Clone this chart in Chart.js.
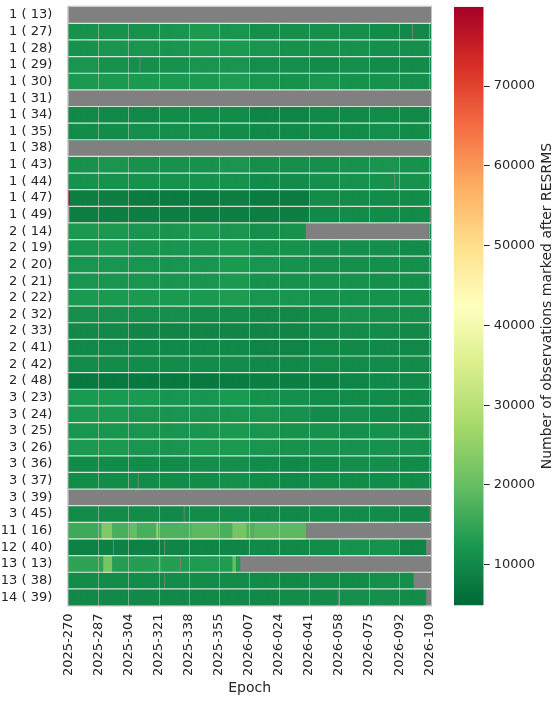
<!DOCTYPE html>
<html>
<head>
<meta charset="utf-8">
<script src="https://cdn.jsdelivr.net/npm/chart.js@4.4.1/dist/chart.umd.min.js"></script>
<style>
  html, body { margin: 0; padding: 0; background: #ffffff; }
  #main { position: absolute; left: 0; top: 0; width: 440px; height: 703px; }
  #cbar { position: absolute; left: 440px; top: 0; width: 120px; height: 703px; }
</style>
</head>
<body>
<div id="main"><canvas id="heat"></canvas></div>
<div id="cbar"><canvas id="cb"></canvas></div>
<script>
// ---------------- DATA ----------------
const rowLabels = ['1 ( 13)','1 ( 27)','1 ( 28)','1 ( 29)','1 ( 30)','1 ( 31)','1 ( 34)','1 ( 35)','1 ( 38)',
  '1 ( 43)','1 ( 44)','1 ( 47)','1 ( 49)','2 ( 14)','2 ( 19)','2 ( 20)','2 ( 21)','2 ( 22)','2 ( 32)',
  '2 ( 33)','2 ( 41)','2 ( 42)','2 ( 48)','3 ( 23)','3 ( 24)','3 ( 25)','3 ( 26)','3 ( 36)','3 ( 37)',
  '3 ( 39)','3 ( 45)','11 ( 16)','12 ( 40)','13 ( 13)','13 ( 38)','14 ( 39)'];

// epoch categories (day of year), 2025-270 ... 2026-109
const epochs = [];
for (let d = 270; d <= 365; d++) epochs.push('2025-' + String(d).padStart(3, '0'));
for (let d = 1; d <= 109; d++) epochs.push('2026-' + String(d).padStart(3, '0'));

const tickLabels = ['2025-270','2025-287','2025-304','2025-321','2025-338','2025-355','2026-007',
  '2026-024','2026-041','2026-058','2026-075','2026-092','2026-109'];

const cbTicks = [10000, 20000, 30000, 40000, 50000, 60000, 70000];
const vMin = 4890;
const vMax = 79950;

// values per satellite, as runs [first epoch index, value]; null = no data
const r_1_13  = [[0,null]];
const r_1_27  = [[0,11500],[51,12000],[68,12500],[85,12000],[102,11000],[170,10500],[187,10000],[194,null],[195,10000]];
const r_1_28  = [[0,11500],[17,12000],[68,12500],[102,12000],[119,11500],[170,11000]];
const r_1_29  = [[0,12000],[17,11500],[34,11000],[40,null],[41,11000],[51,11500],[68,12000],[102,11000],[136,10500],[153,11000],[170,10500]];
const r_1_30  = [[0,12500],[85,13000],[102,12000],[119,11500],[136,12000],[153,11500],[187,11000]];
const r_1_31  = [[0,null]];
const r_1_34  = [[0,10000],[51,10500],[102,9500],[136,10000],[170,10500],[187,10000]];
const r_1_35  = [[0,10500],[34,11000],[85,10500],[102,10000],[136,10500],[170,11000],[187,10500]];
const r_1_38  = [[0,null]];
const r_1_43  = [[0,11500],[17,12000],[34,11500],[85,12000],[102,11000],[153,11500],[170,12000],[187,11500]];
const r_1_44  = [[0,11500],[102,10500],[136,11000],[153,11500],[184,null],[185,11500],[204,11000]];
const r_1_47  = [[0,79950],[1,8500],[34,8000],[85,8500],[102,8000],[137,10500]];
const r_1_49  = [[0,null],[1,8500],[136,10000],[153,10500],[204,null]];
const r_2_14  = [[0,12500],[34,12000],[68,12500],[85,12000],[102,11000],[119,11500],[134,null],[204,11000]];
const r_2_19  = [[0,12000],[17,12500],[34,12000],[85,12500],[102,11500],[136,11000],[187,10500]];
const r_2_20  = [[0,12000],[85,12500],[102,12000],[119,11500],[136,11000]];
const r_2_21  = [[0,12000],[85,12500],[102,11500],[170,11000]];
const r_2_22  = [[0,12500],[85,13000],[102,12000],[136,11500],[204,11000]];
const r_2_32  = [[0,11000],[68,10500],[102,10000],[136,10500],[153,11500],[170,11000],[204,10500]];
const r_2_33  = [[0,10000],[34,9500],[136,10000],[153,10500],[187,10000]];
const r_2_41  = [[0,10000],[102,9500],[136,10000]];
const r_2_42  = [[0,10500],[102,10000],[136,10500]];
const r_2_48  = [[0,7500],[85,8000],[102,null],[103,8500],[153,9500],[170,10000]];
const r_3_23  = [[0,12500],[51,12000],[85,12500],[102,11500],[119,11000],[136,10500]];
const r_3_24  = [[0,12500],[34,12000],[119,11500],[136,null],[137,10500],[153,11000],[170,10500]];
const r_3_25  = [[0,12000],[85,12500],[102,12000],[119,11500],[153,11000],[170,11500],[187,11000]];
const r_3_26  = [[0,12500],[34,12000],[68,12500],[102,12000],[119,11500],[204,11000]];
const r_3_36  = [[0,10500],[68,11000],[102,10500],[119,10000],[136,10500],[153,11000],[187,10500]];
const r_3_37  = [[0,10500],[39,null],[40,10500],[85,11000],[102,10500],[119,10000],[136,10500]];
const r_3_39  = [[0,null]];
const r_3_45  = [[0,10500],[51,10000],[65,null],[66,10500],[102,10000],[136,10500],[187,10000],[204,null]];
const r_11_16 = [[0,16000],[19,23000],[25,17000],[35,20000],[39,17000],[50,26000],[51,17500],[70,19000],[85,17000],[93,22000],[101,18000],[104,null],[105,19000],[134,null]];
const r_12_40 = [[0,9000],[25,null],[26,9000],[54,null],[55,9500],[102,10000],[136,10500],[153,11500],[187,9500],[202,null]];
const r_13_13 = [[0,14500],[20,22000],[25,13500],[51,15000],[53,13500],[63,null],[64,13000],[93,20000],[95,13000],[97,null]];
const r_13_38 = [[0,10500],[51,10000],[54,null],[55,10500],[119,10000],[136,10500],[170,11000],[195,null]];
const r_14_39 = [[0,10000],[119,10500],[152,null],[153,11000],[187,10500],[202,null]];

const rowRuns = [r_1_13,r_1_27,r_1_28,r_1_29,r_1_30,r_1_31,r_1_34,r_1_35,r_1_38,r_1_43,r_1_44,r_1_47,r_1_49,
  r_2_14,r_2_19,r_2_20,r_2_21,r_2_22,r_2_32,r_2_33,r_2_41,r_2_42,r_2_48,r_3_23,r_3_24,r_3_25,r_3_26,
  r_3_36,r_3_37,r_3_39,r_3_45,r_11_16,r_12_40,r_13_13,r_13_38,r_14_39];

// ---------------- helpers ----------------
function expand(runs) {
  const out = new Array(epochs.length).fill(null);
  for (let k = 0; k < runs.length; k++) {
    const s = runs[k][0], v = runs[k][1];
    const e = k + 1 < runs.length ? runs[k + 1][0] : epochs.length;
    for (let c = s; c < e; c++) out[c] = v;
  }
  return out;
}
const rowValues = rowRuns.map(expand);

const cmapStops = ['#006837','#1a9850','#66bd63','#a6d96a','#d9ef8b','#ffffbf','#fee08b','#fdae61','#f46d43','#d73027','#a50026'];
const cmapRGB = cmapStops.map(h => [parseInt(h.slice(1,3),16), parseInt(h.slice(3,5),16), parseInt(h.slice(5,7),16)]);
function cmap(t) {
  t = Math.max(0, Math.min(1, t));
  const p = t * 10, i = Math.min(9, Math.floor(p)), f = p - i;
  const a = cmapRGB[i], b = cmapRGB[i + 1];
  return 'rgb(' + a.map((x, j) => Math.round(x + (b[j] - x) * f)).join(',') + ')';
}

Chart.defaults.font.family = "'DejaVu Sans', sans-serif";
Chart.defaults.font.size = 13;
Chart.defaults.color = '#262626';
Chart.defaults.animation = false;

// ---------------- heatmap ----------------
const datasets = rowValues.map((vals, r) => {
  const data = [], colors = [];
  vals.forEach((v, c) => {
    if (v !== null) {
      data.push({ x: c + 0.5, y: [r, r + 1] });
      colors.push(cmap((v - vMin) / (vMax - vMin)));
    }
  });
  return { label: rowLabels[r], data, backgroundColor: colors, borderWidth: 0,
           barPercentage: 1, categoryPercentage: 1, grouped: false, inflateAmount: 0.45 };
});

const heatPlugin = {
  id: 'heatDeco',
  beforeDatasetsDraw(chart) {
    const ctx = chart.ctx, a = chart.chartArea;
    ctx.save();
    ctx.fillStyle = '#808080';
    ctx.fillRect(a.left, a.top, a.right - a.left, a.bottom - a.top);
    ctx.restore();
  },
  afterDatasetsDraw(chart) {
    const ctx = chart.ctx, a = chart.chartArea;
    const xs = chart.scales.x, ys = chart.scales.y;
    ctx.save();
    // vertical guide lines at the epoch ticks, over the cells that hold data
    ctx.strokeStyle = 'rgba(200,200,200,0.55)';
    ctx.lineWidth = 1;
    tickLabels.forEach(l => {
      const c = epochs.indexOf(l);
      if (c <= 0) return;
      const x = Math.round(xs.getPixelForValue(c)) + 0.5;
      rowValues.forEach((vals, r) => {
        if (vals[c] === null) return;
        ctx.beginPath();
        ctx.moveTo(x, ys.getPixelForValue(r));
        ctx.lineTo(x, ys.getPixelForValue(r + 1));
        ctx.stroke();
      });
    });
    // white separators between satellites
    ctx.strokeStyle = 'rgba(255,255,255,0.8)';
    ctx.lineWidth = 1.2;
    for (let i = 1; i < rowLabels.length; i++) {
      const y = ys.getPixelForValue(i);
      ctx.beginPath(); ctx.moveTo(a.left, y); ctx.lineTo(a.right, y); ctx.stroke();
    }
    // frame
    ctx.strokeStyle = '#c4c4c4';
    ctx.lineWidth = 1;
    ctx.strokeRect(a.left - 0.5, a.top - 0.5, a.right - a.left + 1, a.bottom - a.top + 1);
    ctx.restore();
  }
};

new Chart(document.getElementById('heat'), {
  type: 'bar',
  data: { datasets },
  options: {
    responsive: true, maintainAspectRatio: false,
    layout: { padding: { left: 0, top: 6.7, right: 9, bottom: 0 } },
    plugins: { legend: { display: false }, tooltip: { enabled: false } },
    scales: {
      x: {
        type: 'linear', min: 0, max: epochs.length, offset: false,
        afterBuildTicks(s) { s.ticks = tickLabels.map(l => ({ value: epochs.indexOf(l) })); },
        afterFit(s) { s.height = 97.5; s.paddingLeft = 0; s.paddingRight = 0; s.paddingTop = 0; s.paddingBottom = 0; },
        ticks: { autoSkip: false, maxRotation: 90, minRotation: 90, padding: 8,
                 callback: (v, i) => tickLabels[i] },
        grid: { display: false, drawTicks: false },
        border: { display: false },
        title: { display: true, text: 'Epoch', font: { size: 14 }, padding: { top: 4, bottom: 6.5 } }
      },
      y: {
        type: 'linear', min: 0, max: rowLabels.length, reverse: true,
        afterBuildTicks(s) { s.ticks = rowLabels.map((_, i) => ({ value: i + 0.5 })); },
        afterFit(s) { s.width = 68.3; s.paddingTop = 0; s.paddingBottom = 0; s.paddingLeft = 0; s.paddingRight = 0; },
        ticks: { autoSkip: false, padding: 8, callback: (v, i) => rowLabels[i] },
        grid: { display: false },
        border: { display: false }
      }
    }
  },
  plugins: [heatPlugin]
});

// ---------------- colorbar ----------------
const cbTitlePlugin = {
  id: 'cbTitle',
  afterDraw(chart) {
    const ctx = chart.ctx, a = chart.chartArea;
    ctx.save();
    ctx.translate(107, (a.top + a.bottom) / 2);
    ctx.rotate(-Math.PI / 2);
    ctx.font = "14px 'DejaVu Sans', sans-serif";
    ctx.fillStyle = '#262626';
    ctx.textAlign = 'center';
    ctx.textBaseline = 'middle';
    ctx.fillText('Number of observations marked after RESRMS', 0, 0);
    ctx.restore();
  }
};

new Chart(document.getElementById('cb'), {
  type: 'bar',
  data: {
    labels: ['cb'],
    datasets: [{
      data: [[vMin, vMax]], borderWidth: 0, barPercentage: 1, categoryPercentage: 1, inflateAmount: 0,
      backgroundColor(ctx) {
        const ch = ctx.chart;
        if (!ch.chartArea) return '#1a9850';
        const y = ch.scales.y;
        const g = ch.ctx.createLinearGradient(0, y.getPixelForValue(vMin), 0, y.getPixelForValue(vMax));
        cmapStops.forEach((c, i) => g.addColorStop(i / 10, c));
        return g;
      }
    }]
  },
  options: {
    responsive: true, maintainAspectRatio: false,
    layout: { padding: { left: 14, top: 6.7, right: 0, bottom: 97.5 } },
    plugins: { legend: { display: false }, tooltip: { enabled: false } },
    scales: {
      x: { display: false },
      y: {
        position: 'right', min: vMin, max: vMax,
        afterBuildTicks(s) { s.ticks = cbTicks.map(v => ({ value: v })); },
        afterFit(s) { s.width = 76.3; s.paddingTop = 0; s.paddingBottom = 0; },
        ticks: { padding: 4, autoSkip: false, callback: v => String(v) },
        grid: { drawOnChartArea: false, tickLength: 6, color: '#262626', lineWidth: 1 },
        border: { display: false }
      }
    }
  },
  plugins: [cbTitlePlugin]
});
</script>
</body>
</html>
